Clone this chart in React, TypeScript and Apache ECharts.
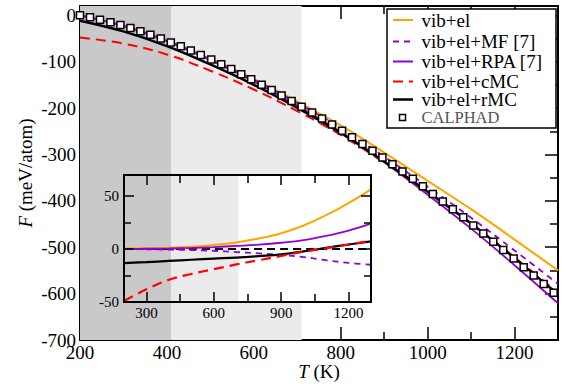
import React, { useEffect, useRef } from "react";
import * as echarts from "echarts";

// ---------- data ----------
const T_GRID = [200, 300, 400, 500, 600, 700, 800, 900, 1000, 1100, 1200, 1300];

// main panel: F (meV/atom)
const vibEl = [0.5, -22.2, -54.2, -93.7, -137.2, -185.7, -237.5, -296, -357, -418, -483.5, -550];
const vibElMF = [0, -22.8, -55, -95, -139.2, -189, -243, -304.5, -369.5, -436.5, -507, -579];
const vibElRPA = [0, -23.2, -56, -97, -142.8, -194.8, -251.7, -317, -386.8, -460, -538.8, -620.8];
const vibElCMC = [-48, -61, -84.5, -119.5, -160, -206.5, -258, -317.5, -381, -448.7, -521.8, -598.2];
const vibElRMC = [-11.6, -34.8, -66.5, -106, -150, -199.5, -253.5, -315.3, -380.5, -449, -523.5, -601.5];

const calphadT = [
  200, 223, 246, 270, 293, 316, 339, 362, 386, 409,
  432, 455, 478, 502, 525, 548, 571, 594, 618, 641,
  664, 687, 710, 734, 757, 780, 803, 826, 850, 873,
  896, 919, 942, 966, 989, 1012, 1035, 1058, 1082, 1105,
  1128, 1151, 1174, 1198, 1221, 1244, 1267, 1290,
];
const calphadF = [
  0, -4.5, -9.5, -15, -21, -27.5, -34.5, -42, -50, -58.5,
  -67, -76, -85.5, -95.5, -105.5, -116, -127, -138, -149.5, -161,
  -173, -185, -197, -209.5, -222.5, -235.5, -249, -263, -277.5, -292,
  -306.5, -321, -336.5, -352.5, -368.5, -385, -401.5, -418, -435.5, -453,
  -470.5, -488, -506, -524.5, -543, -561, -579.5, -598,
];

// inset panel
const insetVibEl = [0.5, 0.8, 1.3, 2.3, 3.9, 6.3, 10, 15, 22.3, 32, 43.5, 56.5];
const insetRPA = [0, 0.3, 0.6, 1.1, 1.9, 3, 4.2, 6, 8.5, 12.5, 17.5, 24];
const insetMF = [0, -0.2, -0.5, -0.9, -1.6, -2.8, -4, -5.5, -7.5, -10.5, -13, -14.8];
const insetRMC = [-13.3, -12.3, -11.2, -10.1, -9, -8, -6.6, -5, -2.2, 1.2, 4.3, 7.2];
const insetCMC = [-49, -38, -29, -23.5, -19, -14.5, -10.5, -6.5, -2.5, 0.8, 4.3, 7.8];
const insetRefT = [200, 1300];
const insetRef = [0, 0];

// shaded temperature bands
const bandEdges = [200, 410, 710];

// ticks
const mainXMajor = [200, 400, 600, 800, 1000, 1200];
const mainXMinor = [300, 500, 700, 900, 1100];
const mainYMajor = [-700, -600, -500, -400, -300, -200, -100, 0];
const mainYMinor = [-650, -550, -450, -350, -250, -150, -50];
const insetXMajor = [300, 600, 900, 1200];
const insetXMinor = [450, 750, 1050];
const insetYMajor = [-50, 0, 50];
const insetYMinor = [-25, 25];

const legendLabels = ["vib+el", "vib+el+MF [7]", "vib+el+RPA [7]", "vib+el+cMC", "vib+el+rMC", "CALPHAD"];

// ---------- styling ----------
const FONT = "Liberation Serif";
const ORANGE = "#ffa500";
const PURPLE = "#9400d3";
const RED = "#ff0000";
const BLACK = "#000000";
const DARK = "#c9c9c9";
const LIGHT = "#ebebeb";

const zip = (xs: number[], ys: number[]) => xs.map((x, i) => [x, ys[i]]);
const plain = (v: number) => String(v);

function xAxis(grid: number, pos: "top" | "bottom", min: number, max: number, ticks: number[], len: number, opts: any = {}) {
  return {
    type: "value",
    gridIndex: grid,
    position: pos,
    min,
    max,
    axisLine: { show: opts.line ?? false, onZero: false, lineStyle: { color: BLACK, width: 2 } },
    axisTick: { show: true, inside: true, length: len, customValues: ticks, lineStyle: { color: BLACK, width: 1.5 } },
    axisLabel: opts.label
      ? { show: true, customValues: ticks, formatter: plain, color: BLACK, fontFamily: FONT, fontSize: opts.fontSize, margin: opts.margin }
      : { show: false },
    splitLine: { show: false },
    z: opts.z ?? 0,
    ...(opts.extra || {}),
  };
}

function yAxis(grid: number, pos: "left" | "right", min: number, max: number, ticks: number[], len: number, opts: any = {}) {
  return {
    type: "value",
    gridIndex: grid,
    position: pos,
    min,
    max,
    axisLine: { show: opts.line ?? false, onZero: false, lineStyle: { color: BLACK, width: 2 } },
    axisTick: { show: true, inside: true, length: len, customValues: ticks, lineStyle: { color: BLACK, width: 1.5 } },
    axisLabel: opts.label
      ? { show: true, customValues: ticks, formatter: plain, color: BLACK, fontFamily: FONT, fontSize: opts.fontSize, margin: opts.margin }
      : { show: false },
    splitLine: { show: false },
    z: opts.z ?? 0,
    ...(opts.extra || {}),
  };
}

function lineSeries(name: string, xs: number[], ys: number[], color: string, width: number, dash: any, xi: number, yi: number, z: number) {
  return {
    name,
    type: "line",
    xAxisIndex: xi,
    yAxisIndex: yi,
    data: zip(xs, ys),
    smooth: 0.4,
    symbol: "none",
    lineStyle: { color, width, type: dash },
    z,
    silent: true,
  };
}

function bands(z: number, xi: number, yi: number) {
  return {
    type: "line",
    xAxisIndex: xi,
    yAxisIndex: yi,
    data: [],
    z,
    silent: true,
    markArea: {
      silent: true,
      z,
      data: [
        [{ xAxis: bandEdges[0], itemStyle: { color: DARK } }, { xAxis: bandEdges[1] }],
        [{ xAxis: bandEdges[1], itemStyle: { color: LIGHT } }, { xAxis: bandEdges[2] }],
      ],
    },
  };
}

const legendRows = [20, 41.5, 61.5, 81.5, 99.5, 117.5];
const legendStyles = [
  { color: ORANGE, dash: null, width: 2 },
  { color: PURPLE, dash: [6, 5], width: 2 },
  { color: PURPLE, dash: null, width: 2 },
  { color: RED, dash: [10, 6], width: 2 },
  { color: BLACK, dash: null, width: 2.5 },
];

function legendGraphics() {
  const els: any[] = [
    {
      type: "rect",
      z: 20,
      shape: { x: 387, y: 9, width: 169, height: 119 },
      style: { fill: "#fff", stroke: BLACK, lineWidth: 1.5 },
    },
  ];
  legendStyles.forEach((s, i) => {
    els.push({
      type: "line",
      z: 21,
      shape: { x1: 393, y1: legendRows[i], x2: 413, y2: legendRows[i] },
      style: { stroke: s.color, lineWidth: s.width, lineDash: s.dash || undefined },
    });
  });
  els.push({
    type: "rect",
    z: 21,
    shape: { x: 399.5, y: legendRows[5] - 3, width: 6, height: 6 },
    style: { fill: "#fff", stroke: BLACK, lineWidth: 1.5 },
  });
  legendLabels.forEach((t, i) => {
    const isLast = i === legendLabels.length - 1;
    els.push({
      type: "text",
      z: 21,
      x: 421.5,
      y: legendRows[i],
      style: {
        text: t,
        fill: isLast ? "#555" : BLACK,
        fontFamily: FONT,
        fontSize: isLast ? 16.5 : 19,
        verticalAlign: "middle",
        align: "left",
      },
    });
  });
  return els;
}

export default function App() {
  const ref = useRef<HTMLDivElement>(null);
  useEffect(() => {
    const chart = echarts.init(ref.current!, null, { renderer: "svg" });
    const nameStyle = {
      fontFamily: FONT, fontSize: 19, color: BLACK,
      rich: { i: { fontFamily: FONT, fontSize: 19, fontStyle: "italic", color: BLACK } },
    };
    const option: any = {
      animation: false,
      backgroundColor: "#fff",
      textStyle: { fontFamily: FONT },
      grid: [
        { left: 80, top: 6, width: 478, height: 334, outerBoundsMode: "none", containLabel: false },
        {
          left: 124, top: 175, width: 247, height: 127, outerBoundsMode: "none", containLabel: false,
          show: true, backgroundColor: "#fff", borderWidth: 0, z: 3,
        },
      ],
      xAxis: [
        xAxis(0, "bottom", 200, 1300, mainXMajor, 13, {
          line: true, label: true, fontSize: 19, margin: 3,
          extra: { name: "{i|T} (K)", nameLocation: "middle", nameGap: 22, nameMoveOverlap: false, nameTextStyle: nameStyle },
        }),
        xAxis(0, "bottom", 200, 1300, mainXMinor, 8),
        xAxis(0, "top", 200, 1300, mainXMajor, 13, { line: true }),
        xAxis(0, "top", 200, 1300, mainXMinor, 8),
        xAxis(1, "bottom", 200, 1300, insetXMajor, 10, { line: true, label: true, fontSize: 15, margin: 3, z: 6 }),
        xAxis(1, "bottom", 200, 1300, insetXMinor, 8, { z: 6 }),
        xAxis(1, "top", 200, 1300, insetXMajor, 10, { line: true, z: 6 }),
        xAxis(1, "top", 200, 1300, insetXMinor, 8, { z: 6 }),
      ],
      yAxis: [
        yAxis(0, "left", -700, 20, mainYMajor, 13, {
          line: true, label: true, fontSize: 19, margin: 4,
          extra: { name: "{i|F} (meV/atom)", nameLocation: "middle", nameGap: 45, nameMoveOverlap: false, nameTextStyle: nameStyle },
        }),
        yAxis(0, "left", -700, 20, mainYMinor, 8),
        yAxis(0, "right", -700, 20, mainYMajor, 13, { line: true }),
        yAxis(0, "right", -700, 20, mainYMinor, 8),
        yAxis(1, "left", -50, 70, insetYMajor, 10, { line: true, label: true, fontSize: 15, margin: 5, z: 6 }),
        yAxis(1, "left", -50, 70, insetYMinor, 7, { z: 6 }),
        yAxis(1, "right", -50, 70, insetYMajor, 10, { line: true, z: 6 }),
        yAxis(1, "right", -50, 70, insetYMinor, 7, { z: 6 }),
      ],
      series: [
        bands(1, 0, 0),
        lineSeries("vib+el", T_GRID, vibEl, ORANGE, 2, "solid", 0, 0, 2),
        lineSeries("vib+el+RPA [7]", T_GRID, vibElRPA, PURPLE, 1.8, "solid", 0, 0, 2),
        lineSeries("vib+el+MF [7]", T_GRID, vibElMF, PURPLE, 1.8, [6, 5], 0, 0, 2),
        lineSeries("vib+el+cMC", T_GRID, vibElCMC, RED, 2, [10, 6], 0, 0, 2),
        lineSeries("vib+el+rMC", T_GRID, vibElRMC, BLACK, 2.5, "solid", 0, 0, 2),
        {
          name: "CALPHAD",
          type: "scatter",
          xAxisIndex: 0,
          yAxisIndex: 0,
          data: zip(calphadT, calphadF),
          symbol: "rect",
          symbolSize: 7,
          itemStyle: { color: "#fff", borderColor: BLACK, borderWidth: 1.5, opacity: 1 },
          z: 3,
          silent: true,
        },
        bands(4, 4, 4),
        lineSeries("ref", insetRefT, insetRef, BLACK, 2, [8, 5], 4, 4, 5),
        lineSeries("i-vib+el", T_GRID, insetVibEl, ORANGE, 2, "solid", 4, 4, 5),
        lineSeries("i-RPA", T_GRID, insetRPA, PURPLE, 1.8, "solid", 4, 4, 5),
        lineSeries("i-MF", T_GRID, insetMF, PURPLE, 1.8, [6, 5], 4, 4, 5),
        lineSeries("i-rMC", T_GRID, insetRMC, BLACK, 2.2, "solid", 4, 4, 5),
        lineSeries("i-cMC", T_GRID, insetCMC, RED, 2.2, [10, 6], 4, 4, 5),
      ],
      graphic: { elements: legendGraphics() },
    };
    chart.setOption(option);
    return () => chart.dispose();
  }, []);
  return <div ref={ref} style={{ position: "fixed", left: 0, top: 0, width: 566, height: 384 }} />;
}
